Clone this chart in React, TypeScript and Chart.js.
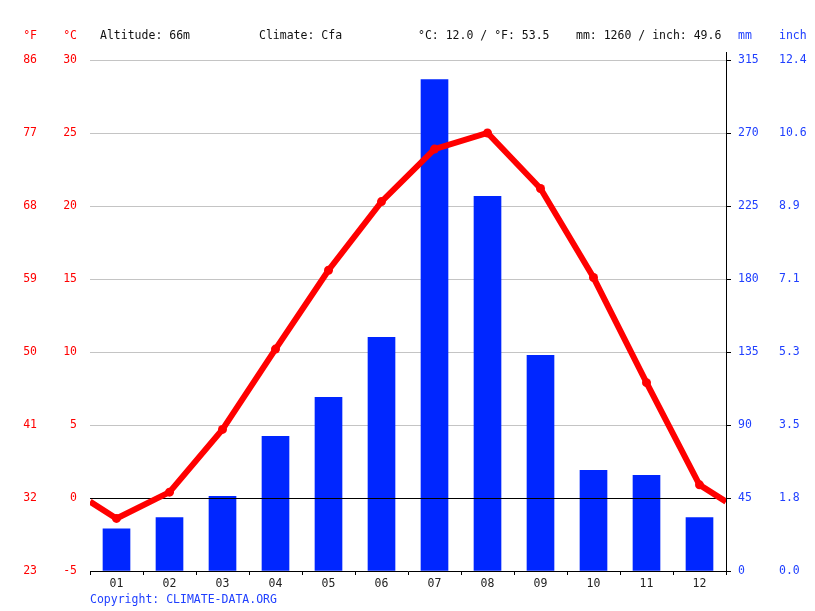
import React, { useEffect, useRef } from "react";
import { Chart, registerables } from "chart.js";

Chart.register(...registerables);

// ---- Data ----
const monthLabels = ["01", "02", "03", "04", "05", "06", "07", "08", "09", "10", "11", "12"];
const temperatureC = [-1.4, 0.4, 4.7, 10.2, 15.6, 20.3, 23.9, 25.0, 21.2, 15.1, 7.9, 0.9];
const precipitationMm = [26, 33, 46, 83, 107, 144, 303, 231, 133, 62, 59, 33];
const headerAltitude = "Altitude: 66m";
const headerClimate = "Climate: Cfa";
const headerTemp = "°C: 12.0 / °F: 53.5";
const headerPrecip = "mm: 1260 / inch: 49.6";
const copyrightText = "Copyright: CLIMATE-DATA.ORG";

const FONT = '"DejaVu Sans Mono", monospace';
const FS = 11.5;
const RED = "#ff0000";
const BLUE = "#0026ff";
const BLUE_TEXT = "#2040ff";

export default function App() {
  const ref = useRef<HTMLCanvasElement | null>(null);

  useEffect(() => {
    document.body.style.margin = "0";
    const canvas = ref.current;
    if (!canvas) return;

    const edge = (temperatureC[0] + temperatureC[11]) / 2;
    const linePoints = [
      { x: 0.5, y: edge },
      ...temperatureC.map((t, i) => ({ x: i + 1, y: t })),
      { x: 12.5, y: edge },
    ];
    const barPoints = precipitationMm.map((p, i) => ({ x: i + 1, y: p }));

    const overlay = {
      id: "overlay",
      afterDatasetDraw(chart: any, args: any) {
        if (args.index !== 1) return;
        const { ctx, chartArea } = chart;
        const y0 = Math.round(chart.scales.y.getPixelForValue(0)) + 0.5;
        ctx.save();
        ctx.strokeStyle = "#000";
        ctx.lineWidth = 1;
        ctx.beginPath();
        ctx.moveTo(chartArea.left, y0);
        ctx.lineTo(chartArea.right, y0);
        ctx.stroke();
        ctx.restore();
      },
      afterDraw(chart: any) {
        const { ctx, chartArea } = chart;
        ctx.save();
        const xr = Math.round(chartArea.right) + 0.5;
        ctx.strokeStyle = "#000";
        ctx.lineWidth = 1;
        ctx.beginPath();
        ctx.moveTo(xr, chartArea.top - 8);
        ctx.lineTo(xr, chartArea.top);
        ctx.stroke();

        ctx.font = `${FS}px ${FONT}`;
        ctx.textBaseline = "middle";
        const ty = 36;
        ctx.fillStyle = RED;
        ctx.textAlign = "right";
        ctx.fillText("°F", 37, ty);
        ctx.fillText("°C", 77, ty);
        ctx.fillStyle = "#111";
        ctx.textAlign = "left";
        ctx.fillText(headerAltitude, 100, ty);
        ctx.fillText(headerClimate, 259, ty);
        ctx.fillText(headerTemp, 418, ty);
        ctx.fillText(headerPrecip, 576, ty);
        ctx.fillStyle = BLUE_TEXT;
        ctx.fillText("mm", 738, ty);
        ctx.fillText("inch", 779, ty);
        ctx.fillText(copyrightText, 90, 600);
        ctx.restore();
      },
    };

    const chart = new Chart(canvas, {
      type: "bar",
      data: {
        datasets: [
          {
            type: "line",
            data: linePoints as any,
            xAxisID: "x",
            yAxisID: "y",
            borderColor: RED,
            backgroundColor: RED,
            borderWidth: 6,
            pointRadius: (c: any) => (Number.isInteger(c.raw?.x) ? 4.5 : 0),
            pointBackgroundColor: RED,
            pointBorderWidth: 0,
            tension: 0,
            order: 0,
          } as any,
          {
            type: "bar",
            data: barPoints as any,
            xAxisID: "x",
            yAxisID: "mm",
            backgroundColor: BLUE,
            borderWidth: 0,
            barThickness: 27,
            order: 1,
          } as any,
        ],
      },
      options: {
        animation: false,
        responsive: false,
        maintainAspectRatio: false,
        layout: { padding: { top: 60, left: 0, right: 0, bottom: 0 } },
        plugins: { legend: { display: false }, tooltip: { enabled: false } },
        scales: {
          x: {
            type: "linear",
            position: "bottom",
            offset: false,
            min: 0.5,
            max: 12.5,
            afterBuildTicks: (s: any) => {
              const t: any[] = [];
              for (let v = 0.5; v <= 12.5; v += 0.5) t.push({ value: v });
              s.ticks = t;
            },
            afterFit: (s: any) => {
              s.height = 40;
            },
            ticks: {
              autoSkip: false,
              maxRotation: 0,
              padding: 2,
              color: "#222",
              font: { family: FONT, size: FS },
              callback: (v: any) => (Number.isInteger(v) ? monthLabels[v - 1] : ""),
            },
            grid: {
              offset: false,
              drawOnChartArea: false,
              drawTicks: true,
              tickLength: 4,
              tickColor: (c: any) => (Number.isInteger(c.tick?.value) ? "rgba(0,0,0,0)" : "#000"),
            },
            border: { display: true, color: "#000", width: 1 },
          },
          y: {
            type: "linear",
            position: "left",
            weight: 0,
            min: -5,
            max: 30,
            afterFit: (s: any) => {
              s.width = 40;
            },
            ticks: {
              stepSize: 5,
              color: RED,
              padding: 13,
              font: { family: FONT, size: FS },
            },
            grid: {
              drawTicks: false,
              color: (c: any) => (c.tick?.value === 0 || c.tick?.value === -5 ? "rgba(0,0,0,0)" : "#c4c4c4"),
              lineWidth: 1,
            },
            border: { display: false },
          },
          yF: {
            type: "linear",
            position: "left",
            weight: 1,
            min: -5,
            max: 30,
            afterFit: (s: any) => {
              s.width = 50;
            },
            ticks: {
              stepSize: 5,
              color: RED,
              padding: 13,
              font: { family: FONT, size: FS },
              callback: (v: any) => String(Math.round(v * 1.8 + 32)),
            },
            grid: { drawOnChartArea: false, drawTicks: false },
            border: { display: false },
          },
          mm: {
            type: "linear",
            position: "right",
            weight: 0,
            min: 0,
            max: 315,
            afterFit: (s: any) => {
              s.width = 45;
            },
            ticks: {
              stepSize: 45,
              color: BLUE_TEXT,
              padding: 7,
              font: { family: FONT, size: FS },
            },
            grid: { drawOnChartArea: false, drawTicks: true, tickLength: 5, tickColor: "#000" },
            border: { display: true, color: "#000", width: 1 },
          },
          inch: {
            type: "linear",
            position: "right",
            weight: 1,
            min: 0,
            max: 315,
            afterFit: (s: any) => {
              s.width = 44;
            },
            ticks: {
              stepSize: 45,
              color: BLUE_TEXT,
              padding: 8,
              font: { family: FONT, size: FS },
              callback: (v: any) => (v / 25.4).toFixed(1),
            },
            grid: { drawOnChartArea: false, drawTicks: false },
            border: { display: false },
          },
        },
      } as any,
      plugins: [overlay],
    });

    return () => chart.destroy();
  }, []);

  return (
    <div style={{ position: "absolute", left: 0, top: 0, width: 815, height: 611 }}>
      <canvas ref={ref} width={815} height={611} style={{ display: "block", width: 815, height: 611 }} />
    </div>
  );
}
